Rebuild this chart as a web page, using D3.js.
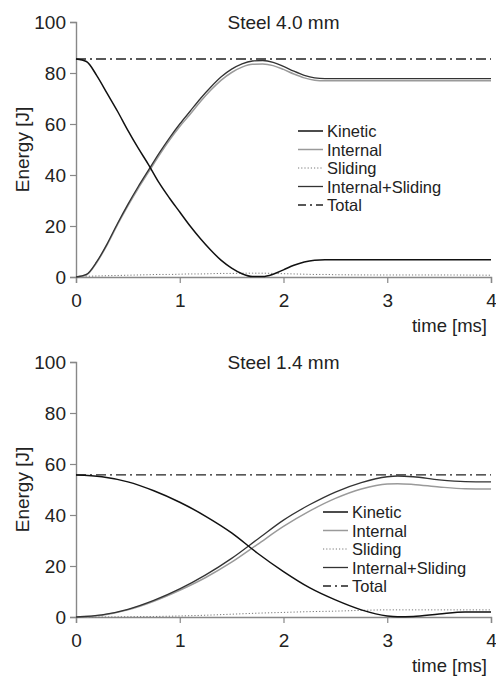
<!DOCTYPE html>
<html>
<head>
<meta charset="utf-8">
<script src="https://cdn.jsdelivr.net/npm/d3@7"></script>
<style>
  body { margin: 0; background: #fff; }
  svg { display: block; font-family: "Liberation Sans", Arial, sans-serif; }
</style>
</head>
<body>
<div id="chart"></div>
<script>
// Steel 4.0 mm
var time40 = [0, 0.1, 0.2, 0.3, 0.4, 0.5, 0.6, 0.7, 0.8, 0.9, 1.0, 1.1, 1.2, 1.3, 1.4, 1.5, 1.6, 1.7, 1.8, 1.9, 2.0, 2.1, 2.2, 2.3, 2.4, 2.5, 3, 3.5, 4];
var kinetic40 = [85.5, 84.5, 79, 72, 65, 57.5, 50.5, 44, 37, 31, 25.5, 20, 15, 10.5, 6.5, 3.5, 1.3, 0.2, 0.2, 1.1, 2.8, 4.6, 5.9, 6.6, 6.8, 6.8, 6.8, 6.8, 6.8];
var internal40 = [0, 0.8, 5.7, 12.6, 20.5, 27.9, 34.8, 41.2, 47.6, 53.6, 59, 63.8, 68.8, 73.3, 77.2, 80.2, 82.3, 83.4, 83.5, 82.9, 81.4, 79.6, 78.1, 77.2, 77, 77, 77, 77, 77];
var sliding40 = [0.3, 0.3, 0.4, 0.5, 0.6, 0.7, 0.8, 0.9, 1.0, 1.0, 1.1, 1.2, 1.2, 1.3, 1.4, 1.4, 1.5, 1.5, 1.5, 1.4, 1.3, 1.2, 1.1, 1.0, 1.0, 0.9, 0.8, 0.8, 0.7];
var intSliding40 = [0, 1, 6, 13, 21, 28.5, 35.5, 42, 48.5, 54.5, 60, 65, 70, 74.5, 78.5, 81.5, 83.6, 84.7, 84.9, 84.2, 82.6, 80.7, 79.1, 78.1, 77.8, 77.8, 77.8, 77.8, 77.8];
var total40 = 85.5;

// Steel 1.4 mm
var time14 = [0, 0.25, 0.5, 0.75, 1.0, 1.25, 1.5, 1.75, 2.0, 2.25, 2.5, 2.75, 3.0, 3.1, 3.25, 3.5, 3.75, 4.0];
var kinetic14 = [55.7, 55, 53, 49.5, 45, 39.5, 33, 25, 17.8, 11.5, 6.7, 2.8, 0.4, 0.1, 0.2, 1.2, 2.0, 2.0];
var internal14 = [0, 0.7, 2.8, 6.2, 10.5, 15.5, 21.5, 28.5, 35.5, 41.5, 46.5, 50.2, 52.2, 52.3, 52, 51, 50.3, 50.2];
var sliding14 = [0, 0, 0.1, 0.2, 0.4, 0.7, 1.1, 1.5, 1.8, 2.1, 2.3, 2.6, 2.8, 2.8, 2.8, 2.8, 2.8, 2.8];
var intSliding14 = [0, 0.8, 3, 6.5, 11, 16.5, 23, 30.5, 38, 44, 49, 52.7, 55, 55.3, 55, 53.8, 53.1, 53];
var total14 = 55.7;

var xTicks = [0, 1, 2, 3, 4];
var yTicks = [0, 20, 40, 60, 80, 100];
var legendNames = ["Kinetic", "Internal", "Sliding", "Internal+Sliding", "Total"];

var width = 496, height = 677;
var svg = d3.select("#chart").append("svg")
    .attr("width", width)
    .attr("height", height);

var styles = {
    "Kinetic": { stroke: "#111", width: 1.5, dash: null },
    "Internal": { stroke: "#9a9a9a", width: 1.5, dash: null },
    "Sliding": { stroke: "#777", width: 1, dash: "1.2,2" },
    "Internal+Sliding": { stroke: "#333", width: 1.3, dash: null },
    "Total": { stroke: "#222", width: 1.3, dash: "10,4,2,4" }
};

function panel(opts) {
    var g = svg.append("g");
    var x = d3.scaleLinear().domain([0, 4]).range([76, 491]);
    var y = d3.scaleLinear().domain([0, 100]).range([opts.bottom, opts.bottom - 255]);

    // axes
    var xAxis = g.append("g")
        .attr("transform", "translate(0," + y(0) + ")")
        .call(d3.axisBottom(x).tickValues(xTicks).tickSize(6).tickPadding(11).tickFormat(d3.format("d")));
    var yAxis = g.append("g")
        .attr("transform", "translate(" + x(0) + ",0)")
        .call(d3.axisLeft(y).tickValues(yTicks).tickSize(6).tickPadding(4));
    [xAxis, yAxis].forEach(function(a) {
        a.select(".domain").attr("stroke", "#888").attr("stroke-width", 1.4);
        a.selectAll(".tick line").attr("stroke", "#888").attr("stroke-width", 1.2);
        a.selectAll(".tick text").attr("fill", "#222").style("font-size", "19px")
            .style("font-family", "Liberation Sans, Arial, sans-serif");
    });

    var series = [
        { name: "Sliding", values: opts.sliding },
        { name: "Internal", values: opts.internal },
        { name: "Internal+Sliding", values: opts.intSliding },
        { name: "Kinetic", values: opts.kinetic }
    ];

    var line = d3.line()
        .x(function(d) { return x(d[0]); })
        .y(function(d) { return y(d[1]); })
        .curve(d3.curveMonotoneX);

    // total energy, constant
    g.append("line")
        .attr("x1", x(0)).attr("x2", x(4))
        .attr("y1", y(opts.total)).attr("y2", y(opts.total))
        .attr("stroke", styles.Total.stroke)
        .attr("stroke-width", styles.Total.width)
        .attr("stroke-dasharray", styles.Total.dash);

    series.forEach(function(s) {
        var st = styles[s.name];
        g.append("path")
            .datum(opts.time.map(function(t, i) { return [t, s.values[i]]; }))
            .attr("d", line)
            .attr("fill", "none")
            .attr("stroke", st.stroke)
            .attr("stroke-width", st.width)
            .attr("stroke-dasharray", st.dash);
    });

    // title
    g.append("text")
        .attr("x", (x(0) + x(4)) / 2)
        .attr("y", opts.bottom - 248)
        .attr("text-anchor", "middle")
        .attr("fill", "#222")
        .style("font-size", "19px")
        .text(opts.title);

    // axis labels
    g.append("text")
        .attr("transform", "translate(29," + y(50) + ") rotate(-90)")
        .attr("text-anchor", "middle")
        .attr("fill", "#222")
        .style("font-size", "19px")
        .text("Energy [J]");
    g.append("text")
        .attr("x", 487)
        .attr("y", opts.bottom + 55)
        .attr("text-anchor", "end")
        .attr("fill", "#222")
        .style("font-size", "18.5px")
        .text("time [ms]");

    // legend
    var legend = g.append("g")
        .selectAll("g")
        .data(legendNames)
        .enter()
        .append("g")
        .attr("transform", function(d, i) {
            return "translate(" + opts.legendX + "," + (opts.legendY + i * 18.5) + ")";
        });
    legend.append("line")
        .attr("x1", 0).attr("x2", 25)
        .attr("stroke", function(d) { return styles[d].stroke; })
        .attr("stroke-width", function(d) { return styles[d].width; })
        .attr("stroke-dasharray", function(d) { return d == "Total" ? "8,4,2,4" : styles[d].dash; });
    legend.append("text")
        .attr("x", 29)
        .attr("y", 6)
        .attr("fill", "#222")
        .style("font-size", "16.5px")
        .text(function(d) { return d; });
}

panel({
    title: "Steel 4.0 mm", bottom: 277,
    time: time40, kinetic: kinetic40, internal: internal40, sliding: sliding40,
    intSliding: intSliding40, total: total40,
    legendX: 298, legendY: 131
});
panel({
    title: "Steel 1.4 mm", bottom: 617,
    time: time14, kinetic: kinetic14, internal: internal14, sliding: sliding14,
    intSliding: intSliding14, total: total14,
    legendX: 323, legendY: 512
});
</script>
</body>
</html>
